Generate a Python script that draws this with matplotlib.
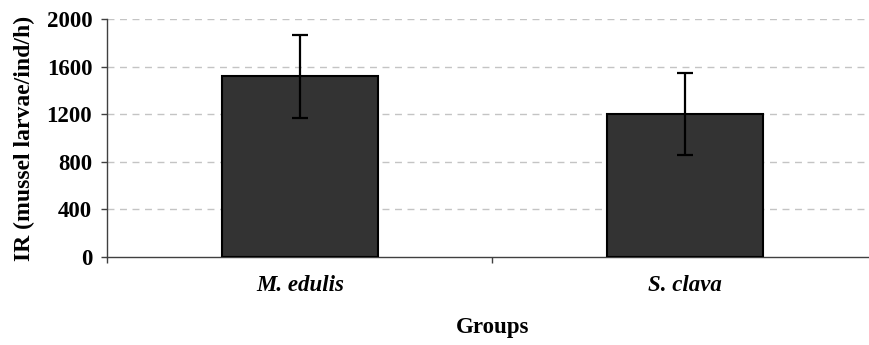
import numpy as np
import matplotlib
matplotlib.use("Agg")
import matplotlib.pyplot as plt

# data
groups = ["M. edulis", "S. clava"]
ir_mean = [1518, 1199]
ir_err = [350, 345]
y_ticks = [0, 400, 800, 1200, 1600, 2000]

plt.rcParams['font.family'] = ['Liberation Serif', 'DejaVu Serif']

fig = plt.figure(figsize=(8.69, 3.45), dpi=100)
# axes runs slightly past the right border, as in the original
ax = fig.add_axes([0.1237, 0.2551, 0.886, 0.6899])

x = np.arange(len(groups))
ax.bar(x, ir_mean, width=0.405, color='#333333', edgecolor='black',
       linewidth=1.5, zorder=3)
ax.errorbar(x, ir_mean, yerr=ir_err, fmt='none', ecolor='black',
            elinewidth=1.6, capsize=5.5, capthick=1.6, zorder=4)

ax.set_xlim(-0.5, len(groups) - 0.5)
ax.set_ylim(0, 2000)
ax.set_yticks(y_ticks)
ax.set_yticklabels([str(v) for v in y_ticks], fontsize=16.5, fontweight='bold')

# category boundaries carry the ticks, names sit between them
ax.set_xticks(np.arange(len(groups) + 1) - 0.5)
ax.set_xticklabels([])
ax.set_xticks(x, minor=True)
ax.set_xticklabels(groups, minor=True, fontsize=16.5, fontweight='bold',
                   fontstyle='italic')
ax.tick_params(axis='x', which='minor', length=0, pad=13)
ax.tick_params(axis='x', which='major', length=4, width=1, color='#404040')
ax.tick_params(axis='y', length=4, width=1, color='#404040', pad=7)

for yv in y_ticks[1:]:
    ax.axhline(yv, color='#c4c4c4', linewidth=1, linestyle=(0, (5, 4)), zorder=1)

for side in ['top', 'right']:
    ax.spines[side].set_visible(False)
for side in ['left', 'bottom']:
    ax.spines[side].set_color('#404040')
    ax.spines[side].set_linewidth(1)

ax.set_ylabel("IR (mussel larvae/ind/h)", fontsize=17, fontweight='bold', labelpad=8)
ax.set_xlabel("Groups", fontsize=16.5, fontweight='bold', labelpad=15)

fig.savefig("out.png", dpi=100)
